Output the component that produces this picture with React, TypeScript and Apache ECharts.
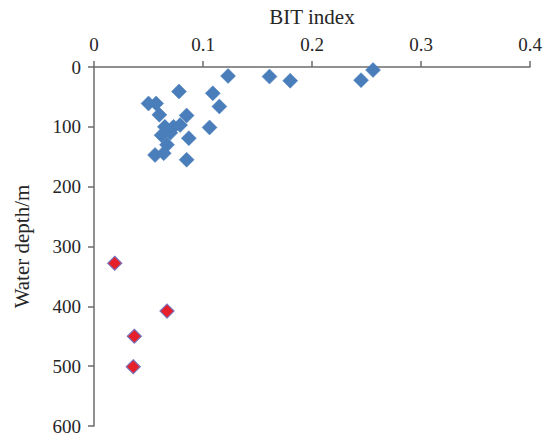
import React, { useEffect, useRef } from "react";
import * as echarts from "echarts";

const xTicks = [0, 0.1, 0.2, 0.3, 0.4];
const yTicks = [0, 100, 200, 300, 400, 500, 600];

// Shallow samples (blue): [BIT index, water depth m]
const shallowBIT = [0.256, 0.245, 0.180, 0.161, 0.123, 0.109, 0.078, 0.115, 0.050, 0.057, 0.060, 0.085, 0.106, 0.065, 0.073, 0.079, 0.062, 0.070, 0.087, 0.067, 0.056, 0.064, 0.085];
const shallowDepth = [5, 22, 23, 16, 15, 44, 41, 66, 61, 61, 80, 81, 101, 100, 100, 97, 114, 110, 119, 130, 147, 144, 155];

// Deep samples (red)
const deepBIT = [0.019, 0.067, 0.037, 0.036];
const deepDepth = [328, 408, 450, 501];

const FONT = "'Liberation Serif', 'Times New Roman', serif";

export default function App() {
  const ref = useRef<HTMLDivElement>(null);
  useEffect(() => {
    if (!ref.current) return;
    const chart = echarts.init(ref.current, undefined, { renderer: "svg" });
    const axisColor = "#6b6b6b";
    const labelColor = "#262626";
    chart.setOption({
      animation: false,
      backgroundColor: "#ffffff",
      grid: { left: 94, top: 67, width: 436, height: 359, containLabel: false },
      xAxis: {
        type: "value",
        position: "top",
        min: 0,
        max: 0.4,
        interval: 0.1,
        name: "BIT index",
        nameLocation: "middle",
        nameGap: 40,
        nameTextStyle: { fontFamily: FONT, fontSize: 21, color: labelColor },
        axisLine: { show: true, onZero: false, lineStyle: { color: axisColor, width: 1.5 } },
        axisTick: { show: true, inside: false, length: 6, lineStyle: { color: axisColor, width: 1.5 } },
        axisLabel: {
          fontFamily: FONT,
          fontSize: 19,
          color: labelColor,
          margin: 13,
          formatter: (v: number) => {
            const t = xTicks.find((x) => Math.abs(x - v) < 1e-9);
            return t === undefined ? "" : String(t);
          },
        },
        splitLine: { show: false },
      },
      yAxis: {
        type: "value",
        inverse: true,
        min: 0,
        max: 600,
        interval: 100,
        name: "Water depth/m",
        nameLocation: "middle",
        nameGap: 62,
        nameTextStyle: { fontFamily: FONT, fontSize: 21, color: labelColor },
        axisLine: { show: true, onZero: false, lineStyle: { color: axisColor, width: 1.5 } },
        axisTick: { show: true, inside: false, length: 6, lineStyle: { color: axisColor, width: 1.5 } },
        axisLabel: {
          fontFamily: FONT,
          fontSize: 19,
          color: labelColor,
          margin: 13,
          formatter: (v: number) => (yTicks.includes(v) ? String(v) : ""),
        },
        splitLine: { show: false },
      },
      series: [
        {
          type: "scatter",
          symbol: "diamond",
          symbolSize: 15,
          itemStyle: { color: "#4a7ebb", borderColor: "#4a7ebb", borderWidth: 0.5, opacity: 1 },
          data: shallowBIT.map((x, i) => [x, shallowDepth[i]]),
        },
        {
          type: "scatter",
          symbol: "diamond",
          symbolSize: 14,
          itemStyle: { color: "#e5202b", borderColor: "#7b72b8", borderWidth: 1.2, opacity: 1 },
          data: deepBIT.map((x, i) => [x, deepDepth[i]]),
        },
      ],
    });
    return () => chart.dispose();
  }, []);
  return (
    <div
      ref={ref}
      style={{ position: "fixed", left: 0, top: 0, width: 554, height: 437 }}
    />
  );
}
